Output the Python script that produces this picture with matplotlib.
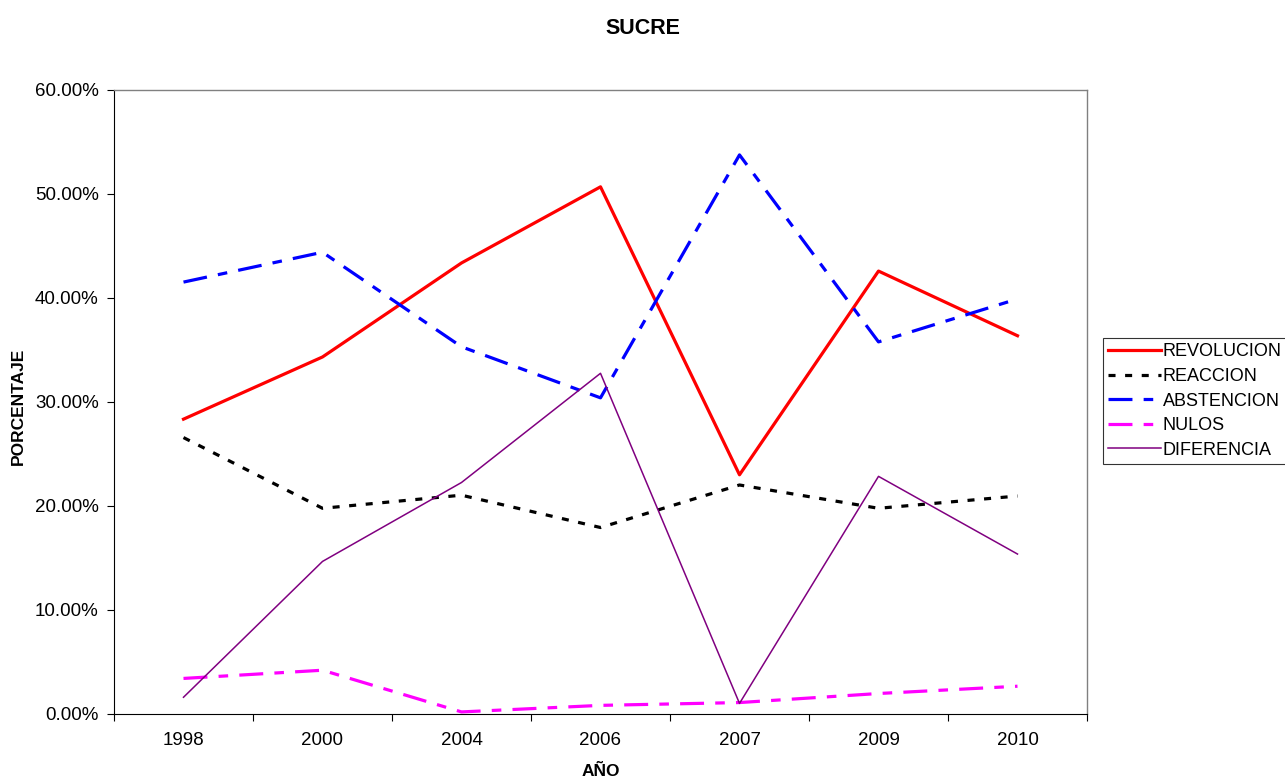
import numpy as np
import matplotlib.pyplot as plt
from matplotlib.ticker import FuncFormatter

plt.rcParams['font.family'] = ['Liberation Sans', 'DejaVu Sans']

years = ["1998", "2000", "2004", "2006", "2007", "2009", "2010"]

revolucion = [28.35, 34.33, 43.37, 50.69, 23.00, 42.59, 36.37]
reaccion = [26.58, 19.78, 21.04, 17.93, 22.02, 19.78, 20.96]
abstencion = [41.53, 44.40, 35.31, 30.40, 53.76, 35.78, 39.91]
nulos = [3.42, 4.21, 0.20, 0.83, 1.10, 1.97, 2.67]
diferencia = [1.61, 14.67, 22.26, 32.76, 1.02, 22.85, 15.38]

x = np.arange(len(years))

fig = plt.figure(figsize=(12.85, 7.78), dpi=100)
ax = fig.add_axes([114 / 1285, 1 - 714 / 778, (1087 - 114) / 1285, (714 - 90) / 778])

ax.plot(x, revolucion, color="#ff0000", lw=2.3, label="REVOLUCION")
ax.plot(x, reaccion, color="black", lw=2.3, dashes=(2.2, 3.0), label="REACCION")
ax.plot(x, abstencion, color="#0000ff", lw=2.3, dashes=(7.5, 3.5, 3, 3.5), label="ABSTENCION")
ax.plot(x, nulos, color="#ff00ff", lw=2.3, dashes=(7.5, 3.5, 3, 3.5), label="NULOS")
ax.plot(x, diferencia, color="#800080", lw=1.1, label="DIFERENCIA")

ax.set_xlim(-0.5, len(years) - 0.5)
ax.set_ylim(0, 60)
ax.set_yticks(np.arange(0, 61, 10))
ax.yaxis.set_major_formatter(FuncFormatter(lambda v, p: f"{v:.2f}%"))
ax.set_xticks(x)
ax.set_xticklabels(years)
ax.set_xticks(np.arange(-0.5, len(years), 1), minor=True)
ax.tick_params(axis="x", which="major", length=0, pad=13, labelsize=13.5)
ax.tick_params(axis="x", which="minor", length=5, direction="out", width=0.8)
ax.tick_params(axis="y", length=5, direction="out", width=0.8, labelsize=13.5, pad=6)

for s in ["top", "right"]:
    ax.spines[s].set_color("#808080")
    ax.spines[s].set_linewidth(1.0)
for s in ["left", "bottom"]:
    ax.spines[s].set_color("black")
    ax.spines[s].set_linewidth(0.8)

fig.text(0.5, 1 - 28 / 778, "SUCRE", ha="center", va="center", fontsize=15.5, fontweight="bold")
fig.text(18 / 1285, 1 - 406 / 778, "PORCENTAJE", ha="center", va="center", rotation=90,
         fontsize=12.5, fontweight="bold")
fig.text(601 / 1285, 1 - 771 / 778, "AÑO", ha="center", va="center", fontsize=12.5, fontweight="bold")

leg = fig.legend(loc="center left", bbox_to_anchor=(1103 / 1285, 1 - 401 / 778),
                 fontsize=13, frameon=True, fancybox=False, handlelength=2.9,
                 handletextpad=0.1, borderpad=0.3, labelspacing=0.42, borderaxespad=0)
leg.get_frame().set_edgecolor("black")
leg.get_frame().set_linewidth(0.8)

fig.savefig("out.png", dpi=100)
